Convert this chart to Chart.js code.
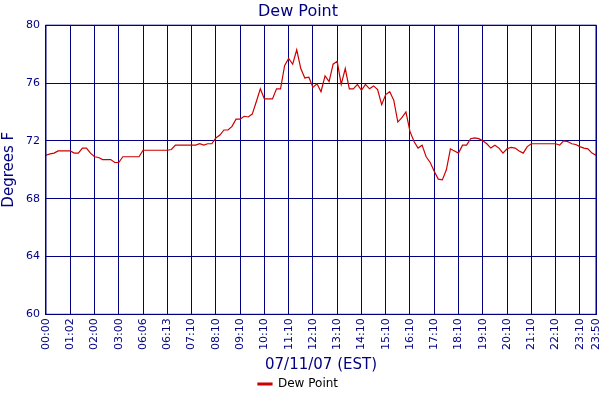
<!DOCTYPE html>
<html><head><meta charset="utf-8">
<script src="https://cdn.jsdelivr.net/npm/chart.js@4/dist/chart.umd.min.js"></script>
<style>html,body{margin:0;padding:0;background:#fff}#w{width:600px;height:400px}</style>
</head><body><div id="w"><canvas id="c"></canvas></div>
<script>
const tickLabels = ["00:00","01:02","02:00","03:00","06:06","06:13","07:10","08:10","09:10","10:10","11:10","12:10","13:10","14:10","15:10","16:10","17:10","18:10","19:10","20:10","21:10","22:10","23:10","23:50"];
const dewPoint = [71.0,71.1,71.15,71.3,71.3,71.3,71.3,71.15,71.15,71.5,71.5,71.15,70.9,70.85,70.7,70.7,70.7,70.5,70.5,70.9,70.9,70.9,70.9,70.9,71.35,71.35,71.35,71.35,71.35,71.35,71.35,71.4,71.7,71.7,71.7,71.7,71.7,71.7,71.8,71.7,71.8,71.8,72.2,72.4,72.75,72.75,73.0,73.5,73.5,73.7,73.65,73.85,74.7,75.6,74.9,74.9,74.9,75.6,75.6,77.2,77.7,77.3,78.3,77.0,76.35,76.4,75.7,75.95,75.4,76.5,76.1,77.3,77.5,75.9,77.0,75.6,75.6,75.9,75.5,75.9,75.6,75.8,75.55,74.5,75.2,75.4,74.8,73.3,73.6,74.0,72.65,71.95,71.5,71.7,70.9,70.5,69.9,69.35,69.3,70.0,71.45,71.3,71.15,71.7,71.7,72.15,72.2,72.15,72.0,71.8,71.5,71.7,71.5,71.15,71.45,71.55,71.5,71.3,71.15,71.6,71.8,71.8,71.8,71.8,71.8,71.8,71.8,71.7,72.0,71.95,71.8,71.75,71.6,71.5,71.45,71.15,71.0];
const step = 6;
const cats = dewPoint.map((v,i)=>i);
function lab(i){ if(i===dewPoint.length-1) return tickLabels[tickLabels.length-1]; if(i%step===0 && i/step<tickLabels.length-1) return tickLabels[i/step]; return null; }
const navy='#000080';
new Chart(document.getElementById('c'),{
 type:'line',
 data:{labels:cats,datasets:[{label:'Dew Point',data:dewPoint,borderColor:'#cc0000',backgroundColor:'#cc0000',borderWidth:1.2,pointRadius:0,tension:0}]},
 options:{responsive:true,maintainAspectRatio:false,animation:false,
  layout:{padding:{top:2,right:4,left:0,bottom:0}},
  plugins:{
   title:{display:true,text:'Dew Point',color:navy,font:{family:'DejaVu Sans',size:16,weight:'normal'},padding:{top:0,bottom:4}},
   legend:{position:'bottom',labels:{color:'#000',font:{family:'DejaVu Sans',size:12},boxWidth:14,boxHeight:2,padding:4}},
   tooltip:{enabled:false}
  },
  scales:{
   x:{type:'category',offset:false,border:{color:navy,width:1},
    afterFit(s){s.paddingRight=0;},
    grid:{color:c=>(c.tick && lab(c.tick.value)!==null)?navy:'rgba(0,0,0,0)',lineWidth:1,drawTicks:false},
    ticks:{autoSkip:false,maxRotation:90,minRotation:90,padding:4,color:navy,font:{family:'DejaVu Sans',size:11},callback:(v,i)=>lab(i)},
    title:{display:true,text:'07/11/07 (EST)',color:navy,font:{family:'DejaVu Sans',size:15},padding:{top:2,bottom:0}}},
   y:{min:60,max:80,border:{color:navy},
    grid:{color:navy,drawTicks:false},
    ticks:{stepSize:4,padding:6,color:navy,font:{family:'DejaVu Sans',size:11}},
    title:{display:true,text:'Degrees F',color:navy,font:{family:'DejaVu Sans',size:15},padding:{top:0,bottom:2}}}
  }
 },
 plugins:[{id:'bg',beforeDraw(ch){const x=ch.ctx;x.save();x.fillStyle='#fff';x.fillRect(0,0,ch.width,ch.height);x.restore();},
  afterDatasetsDraw(ch){const a=ch.chartArea,x=ch.ctx;x.save();x.strokeStyle=navy;x.lineWidth=1;x.strokeRect(a.left,a.top,a.right-a.left,a.bottom-a.top);x.restore();}}]
});
</script></body></html>
